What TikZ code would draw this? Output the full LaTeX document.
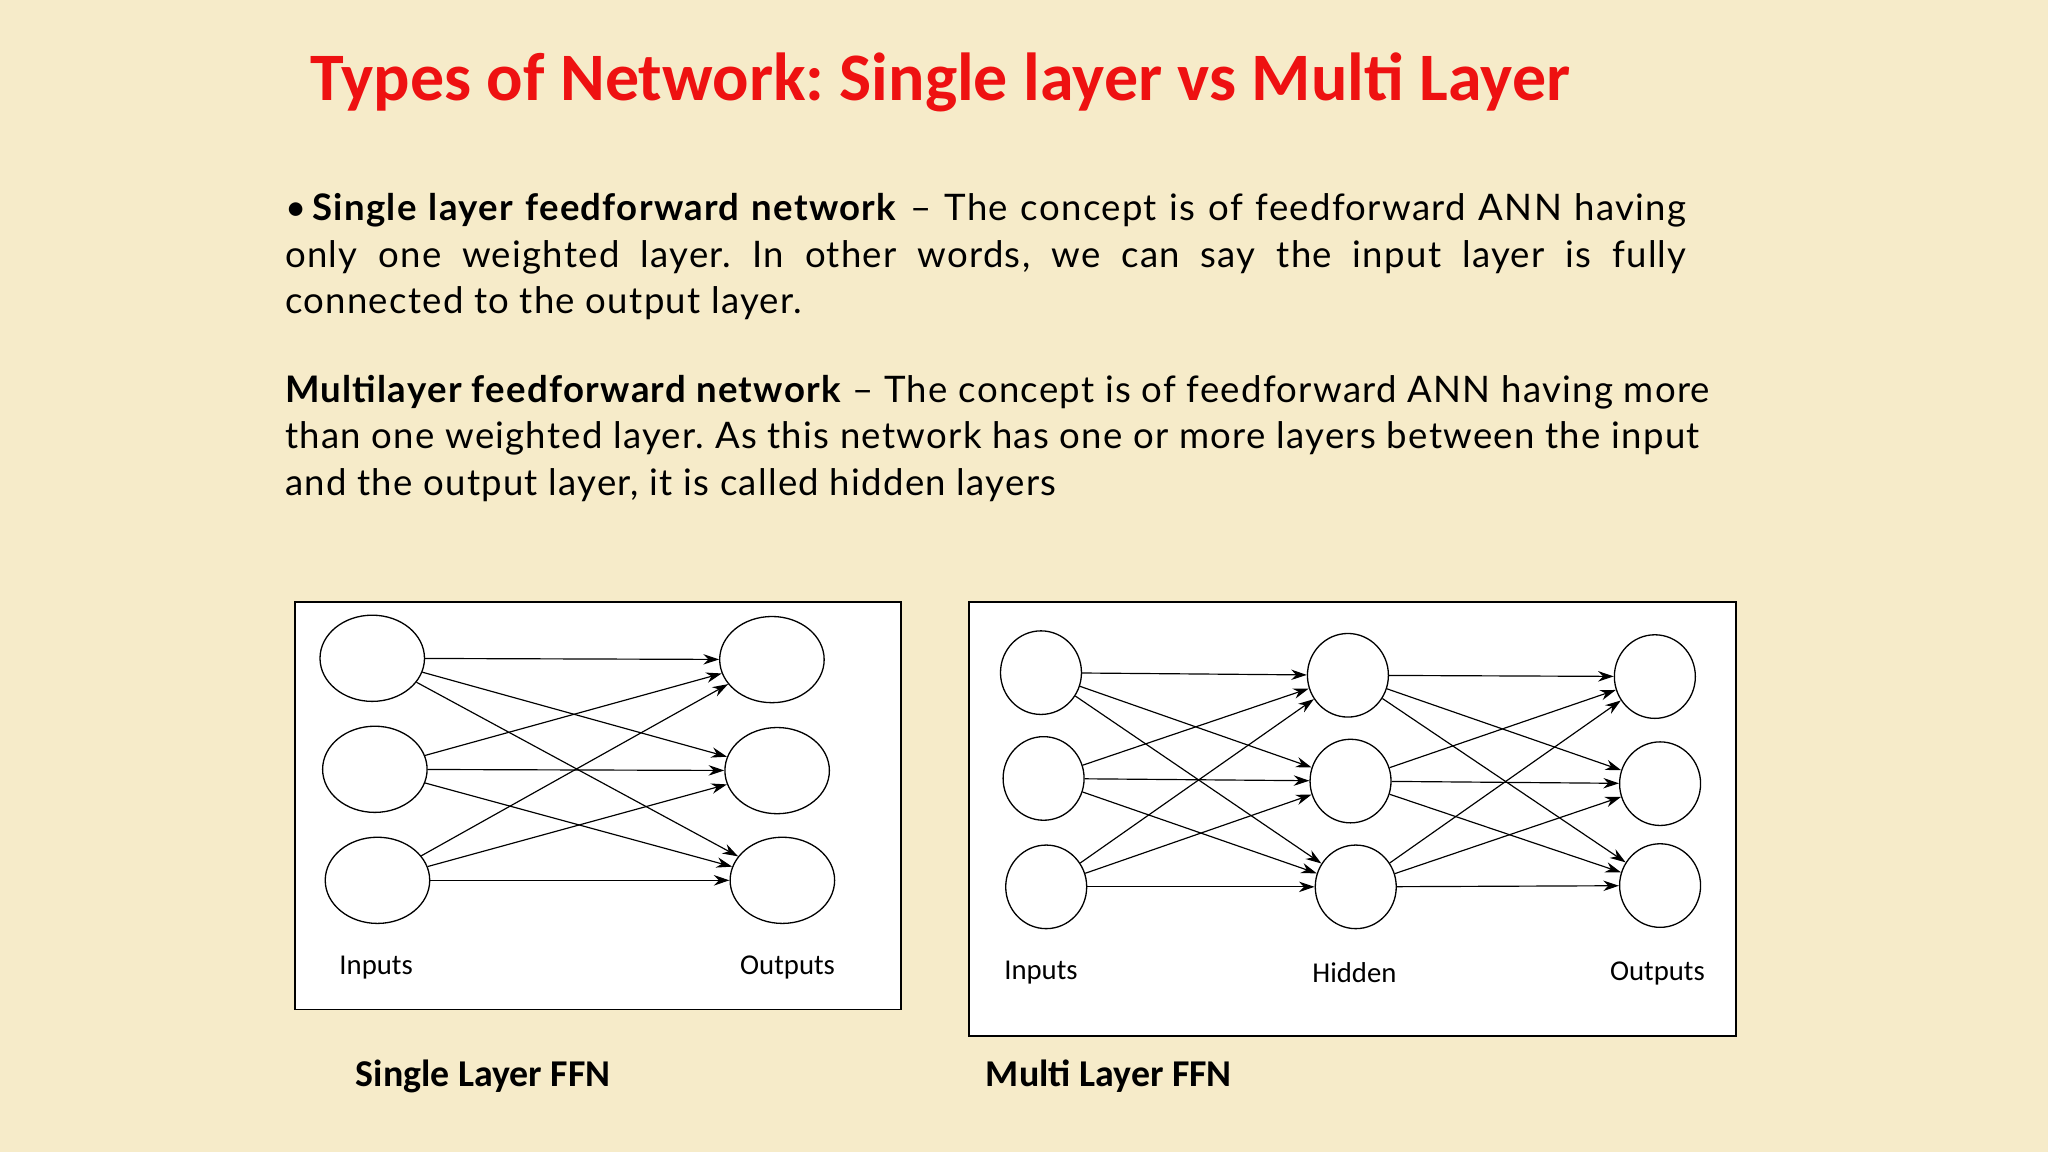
\documentclass[tikz,border=0pt]{standalone}
\usepackage{fontspec}
\setmainfont{Lato}
\newfontfamily\calfont{Carlito}
\newfontfamily\bodyfont[LetterSpace=3.5]{Lato}
\usetikzlibrary{shapes.geometric,arrows.meta}
\definecolor{bg}{HTML}{F6EBC9}
\definecolor{tred}{HTML}{EE1111}
\frenchspacing
\begin{document}
\begin{tikzpicture}[x=1pt,y=-1pt,
  neu/.style={draw,ellipse,line width=1pt,fill=white},
  sn/.style={neu,minimum width=80pt,minimum height=66pt},
  mn/.style={neu,minimum width=62pt,minimum height=64pt},
  con/.style={line width=0.9pt,-{Stealth[length=12pt,width=8pt]}},
  lab/.style={font=\calfont\fontsize{22}{24}\selectfont},
  captxt/.style={font=\calfont\bfseries\fontsize{29}{32}\selectfont}]
\useasboundingbox (0,0) rectangle (1568,882);
\fill[bg] (0,0) rectangle (1568,882);
\node[text=tred,font=\calfont\bfseries\fontsize{52}{56}\selectfont,anchor=base west] (title) at (234,77) {Types of Network: Single layer vs Multi Layer};
\node[anchor=north west,inner sep=0,text width=1073pt,align=justify,font=\bodyfont\frenchspacing\fontsize{28}{35.5}\selectfont] (p1) at (218,148)
 {\textbullet\,\textbf{Single layer feedforward network} \textendash{} The concept is of feedforward ANN having\linebreak only one weighted layer. In other words, we can say the input layer is fully\linebreak connected to the output layer.};
\node[anchor=north west,inner sep=0,align=left,font=\bodyfont\frenchspacing\fontsize{28}{35.5}\selectfont] (p2) at (218,287)
 {\textbf{Multilayer feedforward network} \textendash{} The concept is of feedforward ANN having more\\than one weighted layer. As this network has one or more layers between the input\\and the output layer, it is called hidden layers};
% single
\node[draw,fill=white,line width=1.2pt,minimum width=464pt,minimum height=312pt,inner sep=0] (b1) at (458,617) {};
\node[sn] (i1) at (285,504) {};
\node[sn] (i2) at (287,589) {};
\node[sn] (i3) at (289,674) {};
\node[sn] (o1) at (591,505) {};
\node[sn] (o2) at (595,590) {};
\node[sn] (o3) at (599,674) {};
\foreach \a in {1,2,3}{\foreach \b in {1,2,3}{\draw[con] (i\a) -- (o\b);}}
\node[lab] (l1) at (288,741) {Inputs};
\node[lab] (l2) at (603,741) {Outputs};
% multi
\node[draw,fill=white,line width=1.2pt,minimum width=587pt,minimum height=332pt,inner sep=0] (b2) at (1035.5,627) {};
\node[mn] (a1) at (797,515) {};
\node[mn] (a2) at (799,596) {};
\node[mn] (a3) at (801,679) {};
\node[mn] (h1) at (1032,517) {};
\node[mn] (h2) at (1034,598) {};
\node[mn] (h3) at (1038,679) {};
\node[mn] (c1) at (1267,518) {};
\node[mn] (c2) at (1271,600) {};
\node[mn] (c3) at (1271,678) {};
\foreach \a in {1,2,3}{\foreach \b in {1,2,3}{\draw[con] (a\a) -- (h\b); \draw[con] (h\a) -- (c\b);}}
\node[lab] (m1) at (797,745) {Inputs};
\node[lab] (m2) at (1037,745) {Hidden};
\node[lab] (m3) at (1269,745) {Outputs};
\node[captxt] (k1) at (370,824) {Single Layer FFN};
\node[captxt] (k2) at (849,824) {Multi Layer FFN};
\end{tikzpicture}
\end{document}
